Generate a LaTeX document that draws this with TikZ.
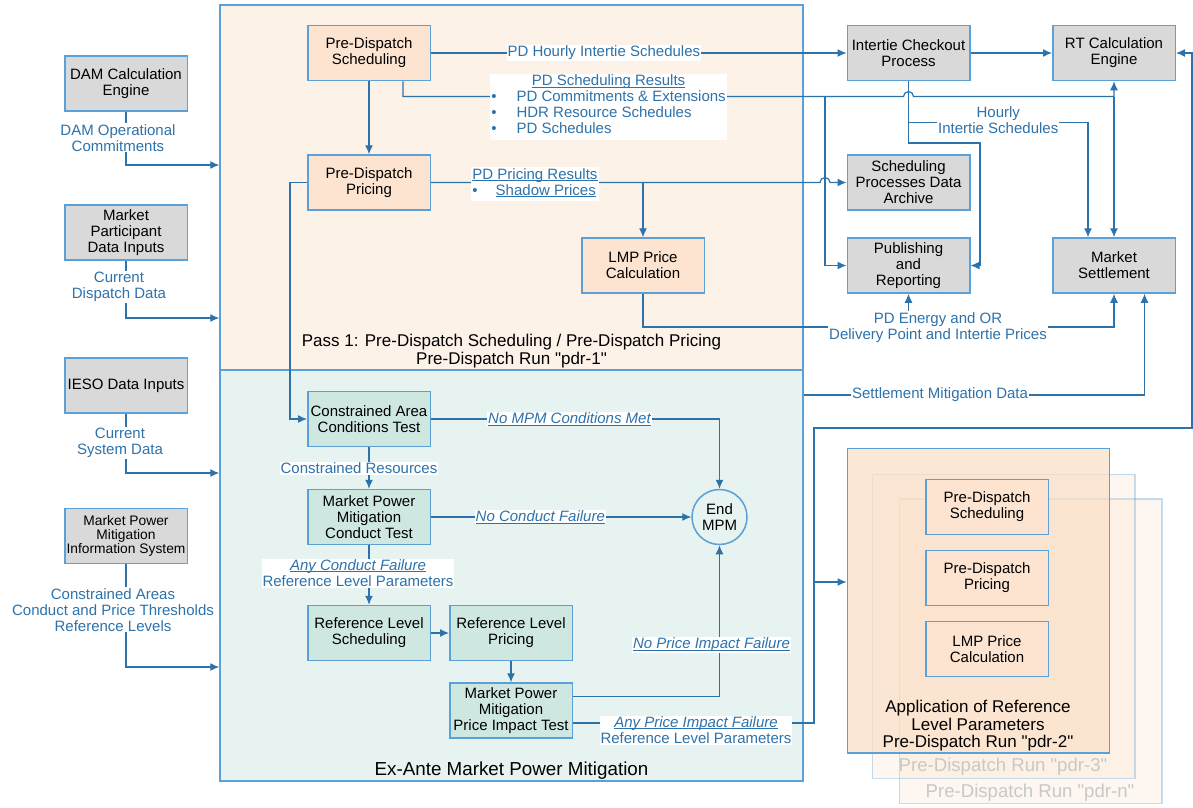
\documentclass[tikz,border=0pt]{standalone}
\usepackage{fontspec}
\setmainfont{Liberation Sans}
\usetikzlibrary{arrows.meta,calc}
\definecolor{boxline}{RGB}{91,160,215}
\definecolor{flowblue}{RGB}{46,114,170}
\definecolor{greyfill}{RGB}{217,217,217}
\definecolor{peach}{RGB}{252,228,208}
\definecolor{peachbg}{RGB}{253,242,232}
\definecolor{pdrfill}{RGB}{250,222,198}
\definecolor{mint}{RGB}{206,232,225}
\definecolor{mintbg}{RGB}{231,243,240}
\definecolor{faded}{RGB}{200,200,200}
\tikzset{
  every node/.style={font=\fontsize{15}{16}\selectfont},
  frame/.style={draw=boxline, line width=1.5pt, inner sep=0pt},
  blk/.style={draw=boxline, line width=1.5pt, minimum width=122.5pt, minimum height=55pt, align=center, inner sep=1pt},
  sys/.style={blk, fill=greyfill},
  pd/.style={blk, fill=peach},
  mpm/.style={blk, fill=mint},
  line/.style={draw=flowblue, line width=1.2pt},
  lbl/.style={text=flowblue, fill=white, align=center, inner sep=1pt},
  ital/.style={lbl, font=\fontsize{15}{16}\selectfont\itshape},
  title/.style={font=\fontsize{17}{17.5}\selectfont, align=center},
}
\newcommand{\proc}[5]{\node[#1] (#2) at (#3,#4) {#5};}
\newcommand{\flow}[2]{\draw[line,->] (#1) -- (#2);}
\newcommand{\uln}[1]{\setbox0\hbox{#1}\rlap{\rule[-2pt]{\wd0}{0.9pt}}\box0}
\newcommand{\qt}{{\font\qtf="Liberation Sans" at \csname f@size\endcsname pt\qtf\char"22\relax}}

\begin{document}
\begin{tikzpicture}[x=1pt,y=-1pt,>={Latex[length=9pt,width=8pt]}]
    \useasboundingbox (0,0) rectangle (1193,807);
    \node[frame, fill=peachbg, minimum width=583pt, minimum height=365pt] (pass1) at (511.5,187.5) {};
    \node[frame, fill=mintbg, minimum width=583pt, minimum height=411pt] (exante) at (511.5,575.5) {};
    \node[title] (pass1T) at (511.5,351) {Pass 1: Pre-Dispatch Scheduling / Pre-Dispatch Pricing\\Pre-Dispatch Run \qt pdr-1\qt};
    \node[title, font=\fontsize{18.8}{19}\selectfont] (exanteT) at (511.5,771) {Ex-Ante Market Power Mitigation};

    \node[frame, draw opacity=.35, fill=pdrfill, fill opacity=.25, minimum width=262.5pt, minimum height=304.5pt] (pdrn) at (1030.5,651) {};
    \node[frame, draw opacity=.35, fill=pdrfill, fill opacity=.25, minimum width=262.5pt, minimum height=304pt] (pdr3) at (1003.7,626.3) {};
    \node[frame, fill=pdrfill, fill opacity=.7, minimum width=262pt, minimum height=304.5pt] (pdr2) at (978.3,600.5) {};
    \node[title, text=faded, font=\fontsize{18.6}{19}\selectfont] (pdr3T) at (1003,767) {Pre-Dispatch Run \qt pdr-3\qt};
    \node[title, text=faded, font=\fontsize{18.6}{19}\selectfont] (pdrnT) at (1030,793) {Pre-Dispatch Run \qt pdr-n\qt};
    \node[title] (pdr2T) at (978,726) {Application of Reference\\Level Parameters\\Pre-Dispatch Run \qt pdr-2\qt};
    \proc{pd}{pdsB}{987}{507}{Pre-Dispatch\\Scheduling}
    \proc{pd}{pdpB}{987}{578}{Pre-Dispatch\\Pricing}
    \proc{pd}{lmpB}{987}{649}{LMP Price\\Calculation}

    \proc{sys}{dam}{126}{83.5}{DAM Calculation\\Engine}
    \proc{sys}{mpdi}{126}{232.5}{Market\\Participant\\Data Inputs}
    \proc{sys}{ieso}{126}{385.5}{IESO Data Inputs}
    \proc{sys, font=\fontsize{13.8}{14}\selectfont}{mpmis}{126}{536}{Market Power\\Mitigation\\Information System}
    \proc{pd}{pds}{369}{53}{Pre-Dispatch\\Scheduling}
    \proc{pd}{pdp}{369}{182.5}{Pre-Dispatch\\Pricing}
    \proc{pd}{lmp}{643}{265.5}{LMP Price\\Calculation}
    \proc{sys}{icp}{908.5}{53}{Intertie Checkout\\Process}
    \proc{sys}{rtc}{1114}{53}{RT Calculation\\Engine}
    \proc{sys}{spda}{908.5}{182.5}{Scheduling\\Processes Data\\Archive}
    \proc{sys}{pr}{908.5}{265.5}{Publishing\\and\\Reporting}
    \proc{sys}{ms}{1114}{265.5}{Market\\Settlement}
    \proc{mpm}{cact}{369}{419}{Constrained Area\\Conditions Test}
    \proc{mpm}{mpmct}{369}{517}{Market Power\\Mitigation\\Conduct Test}
    \proc{mpm}{rls}{369}{633}{Reference Level\\Scheduling}
    \proc{mpm}{rlp}{511}{633}{Reference Level\\Pricing}
    \proc{mpm}{pit}{511}{710.5}{Market Power\\Mitigation\\Price Impact Test}
    \node[circle, draw=boxline, line width=1.5pt, fill=mintbg, minimum size=55pt, inner sep=0pt, align=center] (endmpm) at (719.5,517) {End\\MPM};

    \draw[line,->] (dam) |- ([yshift=22.5pt]pass1.west) node[lbl, pos=.245, xshift=-8pt] {DAM Operational\\Commitments};
    \draw[line,->] (mpdi) |- ([yshift=-130.5pt]pass1.west) node[lbl, pos=.228, xshift=-7pt] {Current\\Dispatch Data};
    \draw[line,->] (ieso) |- ([yshift=102.5pt]exante.west) node[lbl, pos=.246, xshift=-6pt] {Current\\System Data};
    \draw[line,->] (mpmis) |- ([yshift=-91.5pt]exante.west) node[lbl, pos=.222, xshift=-13pt] {Constrained Areas\\Conduct and Price Thresholds\\Reference Levels};

    \draw[line,->] (pds) -- (icp) node[lbl, pos=.416] {PD Hourly Intertie Schedules};
    \flow{icp}{rtc} \flow{pds}{pdp}
    \draw[line,->] ([xshift=-28pt]pds.south east) |- (903.5,96.5) arc[start angle=180, end angle=0, radius=5pt] -| (rtc.south);
    \flow{[yshift=-16pt]rtc.south}{ms}
    \coordinate (schedsplit) at (825,96.5);
    \draw[line,->] (schedsplit) |- (pr);
    \draw[line,->] (pdp) -- (820,182.5) arc[start angle=180, end angle=0, radius=5pt] -- (spda);
    \flow{lmp.north |- pdp}{lmp}
    \draw[line,->] (pdp.west) -- ++(-17,0) |- (cact);
    \draw[line,->] (icp) |- (980,143) |- (pr);
    \draw[line,->] ([yshift=-41pt]icp.south) -| ([xshift=-26pt]ms.north) node[lbl, pos=.25, yshift=2pt] {Hourly\\Intertie Schedules};
    \coordinate (pricebus) at (1114,327);
    \draw[line,->] (lmp) |- (pricebus) -- (ms);
    \draw[line,->] ([yshift=180.5pt]exante.east) -| ([xshift=30.5pt]ms.south) node[lbl, pos=.2] {Settlement Mitigation Data};

    \draw[line,->] (cact) -| (endmpm) node[ital, pos=.24] {\uln{No MPM Conditions Met}};
    \draw[line,->] (mpmct) -- (endmpm) node[ital, pos=.42] {\uln{No Conduct Failure}};
    \draw[line,->] ([yshift=14pt]pit.east) -| (endmpm) node[ital, pos=.67, xshift=-8pt] {\uln{No Price Impact Failure}};
    \draw[line,->] ([yshift=-12.5pt]pit.east) -| (814,428) -| (1192,53) -- (rtc);
    \coordinate (split) at (814,582);
    \draw[line,->] (split) -- (pdr2.west |- split);
    \draw[line,->] (cact) -- (mpmct) node[lbl, midway, xshift=-10pt] {Constrained Resources};
    \draw[line,->] (mpmct) -- (rls) node[lbl, midway, xshift=-11pt, yshift=2pt] {\textit{\uln{Any Conduct Failure}}\\Reference Level Parameters};
    \flow{rls}{rlp} \flow{rlp}{pit}

    \node[lbl] (schedres) at (608.5,106.5) {\begin{tabular}{@{}l@{\hspace{20pt}}l@{}}\multicolumn{2}{c}{\uln{PD Scheduling Results}}\\ \textbullet & PD Commitments \& Extensions\\ \textbullet & HDR Resource Schedules\\ \textbullet & PD Schedules\end{tabular}};
    \node[lbl] (priceres) at (535,184) {\begin{tabular}{@{}l@{\hspace{18pt}}l@{}}\multicolumn{2}{@{}l@{}}{\uln{PD Pricing Results}}\\ \textbullet & \uln{Shadow Prices}\end{tabular}};
    \node[lbl] (prices) at (938,327.5) {PD Energy and OR\\Delivery Point and Intertie Prices};
    \flow{prices.north -| pr}{pr}
    \node[lbl] (anyprice) at (696,730) {\textit{\uln{Any Price Impact Failure}}\\Reference Level Parameters};
\end{tikzpicture}
\end{document}
